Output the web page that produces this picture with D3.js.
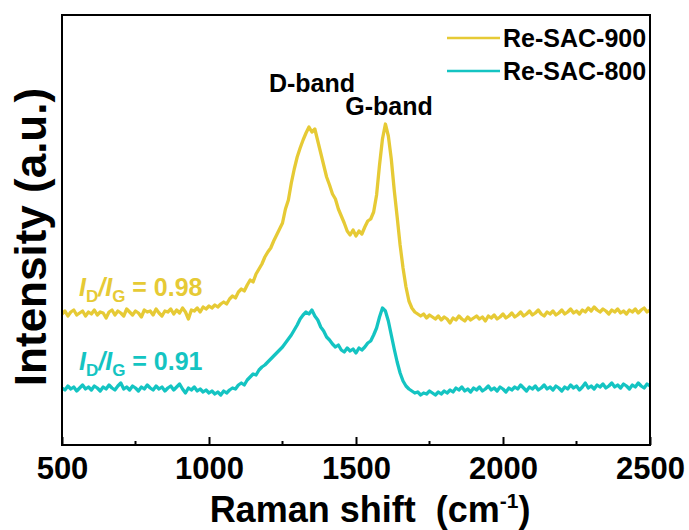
<!DOCTYPE html>
<html>
<head>
<meta charset="utf-8">
<style>
  body { margin: 0; background: #fff; }
  text { font-family: "Liberation Sans", Arial, sans-serif; font-weight: bold; }
  .frame { fill: none; stroke: #000; stroke-width: 2; }
  .tick line { stroke: #000; stroke-width: 2; }
  .spec { fill: none; stroke-width: 3.3; stroke-linejoin: round; }
</style>
</head>
<body>
<svg width="689" height="530"></svg>
<script src="https://cdnjs.cloudflare.com/ajax/libs/d3/7.8.5/d3.min.js"></script>
<script>
// raman shift grid, cm-1 (one reading every 10 cm-1)
var shift = d3.range(500, 2501, 10);

// intensities (arbitrary units, offset already applied)
var sac900 = [
  131,134,129,133,135,130,132,134,129,133, 131,135,130,133,132,127,133,135,130,134,
  132,129,136,133,130,134,132,128,135,133, 134,130,136,132,129,134,133,136,131,135,
  132,137,133,126,135,134,137,133,138,136, 139,137,140,138,141,143,141,146,149,147,
  153,156,154,160,165,163,171,176,181,188, 193,197,204,210,216,222,236,245,262,276,
  288,297,305,312,318,313,316,304,292,280, 268,260,251,246,236,229,222,214,210,215,
  209,214,211,218,224,226,233,250,280,306, 321,309,286,255,228,200,177,158,144,137,
  133,131,129,131,127,130,128,126,129,125, 128,126,122,127,125,129,126,124,128,125,
  127,129,126,128,124,129,127,130,126,128, 131,127,129,132,128,130,133,129,131,134,
  130,132,135,131,129,133,131,134,130,132, 135,131,133,136,132,134,131,135,133,137,
  134,138,135,133,136,134,131,135,133,136, 132,134,131,135,133,136,132,135,137,133,
  135
];
var sac800 = [
  57,55,59,56,58,54,57,60,56,58, 55,59,57,54,58,56,60,57,55,59,
  62,56,58,55,59,57,54,58,56,60, 57,55,59,56,58,54,57,59,55,58,
  61,56,52,57,55,58,54,56,53,55, 52,54,51,53,50,54,52,55,57,56,
  60,62,60,65,68,71,70,75,78,80, 83,86,89,92,95,98,102,106,110,115,
  120,126,130,133,131,135,129,125,118,114, 108,105,101,98,100,95,93,97,94,96,
  92,97,95,98,102,104,110,117,128,137, 134,124,110,96,83,72,64,59,56,54,
  52,53,50,52,51,54,52,50,53,51, 54,52,55,53,57,55,58,54,56,53,
  57,55,58,54,56,59,55,57,54,58, 56,53,57,55,58,56,60,57,54,58,
  56,59,55,57,60,56,58,55,59,57, 54,58,56,60,57,59,55,58,62,57,
  59,56,60,58,61,57,59,62,58,60, 57,61,59,56,60,58,62,59,57,61,
  59
];

var xTicks = [500, 1000, 1500, 2000, 2500];
var xMinor = [750, 1250, 1750, 2250];
var seriesNames = ["Re-SAC-900", "Re-SAC-800"];
var seriesColors = ["#e6ca35", "#14c4c2"];
var ratios = ["0.98", "0.91"];

var svg = d3.select("svg");

var pLeft = 62, pRight = 650, pTop = 15, pBottom = 445;

var x = d3.scaleLinear().domain([500, 2500]).range([pLeft, pRight]);
var y = d3.scaleLinear().domain([0, 430]).range([pBottom, pTop]);

var line = d3.line()
    .x(function(d) { return x(d[0]); })
    .y(function(d) { return y(d[1]); });

[sac900, sac800].forEach(function(vals, i) {
  svg.append("path")
      .datum(shift.map(function(s, j) { return [s, vals[j]]; }))
      .attr("class", "spec")
      .attr("stroke", seriesColors[i])
      .attr("d", line);
});

// bottom axis, ticks pointing in
var ax = svg.append("g").attr("transform", "translate(0," + pBottom + ")");
ax.call(d3.axisBottom(x).tickValues(xTicks).tickSizeInner(-8).tickSizeOuter(0).tickFormat(d3.format("d")))
  .call(function(g) { g.select(".domain").remove(); });
ax.selectAll(".tick text")
    .attr("y", 34)
    .attr("dy", 0)
    .attr("font-size", 31)
    .attr("font-family", "Liberation Sans, Arial, sans-serif")
    .attr("font-weight", "bold")
    .attr("fill", "#000");
ax.selectAll(".minor")
  .data(xMinor)
  .enter().append("line")
    .attr("x1", function(d) { return x(d); })
    .attr("x2", function(d) { return x(d); })
    .attr("y1", 0).attr("y2", -4)
    .attr("stroke", "#000").attr("stroke-width", 2);

svg.append("rect")
    .attr("class", "frame")
    .attr("x", pLeft).attr("y", pTop)
    .attr("width", pRight - pLeft).attr("height", pBottom - pTop);

// axis titles
var xt = svg.append("text")
    .attr("x", 370)
    .attr("y", 522)
    .attr("text-anchor", "middle")
    .attr("font-size", 36);
xt.append("tspan").text("Raman shift\u00a0\u00a0(cm");
xt.append("tspan").attr("font-size", 21).attr("dy", -14).text("-1");
xt.append("tspan").attr("dy", 14).text(")");

svg.append("text")
    .attr("transform", "translate(46,237) rotate(-90)")
    .attr("text-anchor", "middle")
    .attr("font-size", 44)
    .text("Intensity (a.u.)");

// band labels
svg.append("text").attr("x", 312).attr("y", 92).attr("text-anchor", "middle")
    .attr("font-size", 25).text("D-band");
svg.append("text").attr("x", 389).attr("y", 115).attr("text-anchor", "middle")
    .attr("font-size", 25).text("G-band");

// ID/IG labels
[296, 370].forEach(function(yy, i) {
  var t = svg.append("text")
      .attr("x", 79).attr("y", yy)
      .attr("font-size", 25)
      .attr("fill", seriesColors[i]);
  t.append("tspan").attr("font-style", "italic").text("I");
  t.append("tspan").attr("font-size", 17).attr("dy", 6).text("D");
  t.append("tspan").attr("dy", -6).attr("font-style", "italic").text("/I");
  t.append("tspan").attr("font-size", 17).attr("dy", 6).text("G");
  t.append("tspan").attr("dy", -6).text(" = " + ratios[i]);
});

// legend
var leg = svg.selectAll(".leg")
  .data(seriesNames)
  .enter().append("g")
    .attr("class", "leg")
    .attr("transform", function(d, i) { return "translate(447," + (38 + i * 33) + ")"; });
leg.append("line")
    .attr("x1", 0).attr("x2", 53)
    .attr("stroke", function(d, i) { return seriesColors[i]; })
    .attr("stroke-width", 2.6);
leg.append("text")
    .attr("x", 56).attr("y", 9)
    .attr("font-size", 25)
    .text(function(d) { return d; });
</script>
</body>
</html>
